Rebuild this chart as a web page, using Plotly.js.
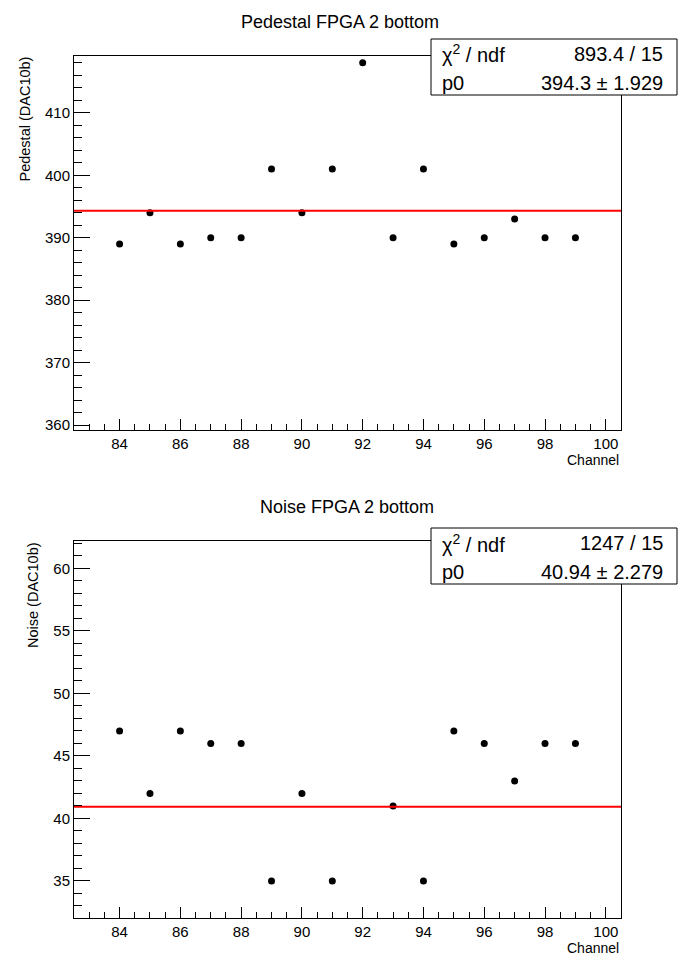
<!DOCTYPE html>
<html>
<head>
<meta charset="utf-8">
<script src="https://cdn.plot.ly/plotly-3.0.1.min.js"></script>
<style>html,body{margin:0;padding:0;background:#fff;}#chart{width:698px;height:976px;}</style>
</head>
<body>
<div id="chart"></div>
<script>
// ---- data ----
const channels = [84, 85, 86, 87, 88, 89, 90, 91, 92, 93, 94, 95, 96, 97, 98, 99];
const pedestal = [389, 394, 389, 390, 390, 401, 394, 401, 418, 390, 401, 389, 390, 393, 390, 390];
const noise    = [47, 42, 47, 46, 46, 35, 42, 35, 11, 41, 35, 47, 46, 43, 46, 46]; // ch 92 lies below the visible range
const pedestalFit = 394.3;
const noiseFit = 40.94;
const pedestalStats = [["&#967;<sup>2</sup> / ndf", "893.4 / 15"], ["p0", "394.3 &#177; 1.929"]];
const noiseStats    = [["&#967;<sup>2</sup> / ndf", "1247 / 15"], ["p0", "40.94 &#177; 2.279"]];
const titles = ["Pedestal FPGA 2 bottom", "Noise FPGA 2 bottom"];
const yTitles = ["Pedestal (DAC10b)", "Noise (DAC10b)"];
const xTitle = "Channel";
const xRange = [82.5, 100.5];

// ---- layout helpers ----
const W = 698, H = 976;
const FONT = "Liberation Sans, Arial, Helvetica, sans-serif";
const px = v => v / W;
const py = v => 1 - v / H;

const traces = [
  {x: channels, y: pedestal, mode: 'markers', type: 'scatter', xaxis: 'x', yaxis: 'y',
   marker: {color: 'black', size: 7}, cliponaxis: true, showlegend: false, hoverinfo: 'skip'},
  {x: xRange, y: [pedestalFit, pedestalFit], mode: 'lines', type: 'scatter', xaxis: 'x', yaxis: 'y',
   line: {color: '#ff0000', width: 2}, showlegend: false, hoverinfo: 'skip'},
  {x: channels, y: noise, mode: 'markers', type: 'scatter', xaxis: 'x2', yaxis: 'y2',
   marker: {color: 'black', size: 7}, cliponaxis: true, showlegend: false, hoverinfo: 'skip'},
  {x: xRange, y: [noiseFit, noiseFit], mode: 'lines', type: 'scatter', xaxis: 'x2', yaxis: 'y2',
   line: {color: '#ff0000', width: 2}, showlegend: false, hoverinfo: 'skip'}
];

function xAxis(anchor) {
  return {
    domain: [px(74), px(621)], range: xRange, anchor: anchor,
    showline: true, linecolor: 'black', linewidth: 1, mirror: true,
    showgrid: false, zeroline: false,
    ticks: 'inside', ticklen: 11, tickcolor: 'black', tickwidth: 1,
    tick0: 84, dtick: 2, ticklabelstandoff: 0,
    minor: {ticks: 'inside', ticklen: 6, tickcolor: 'black', tickwidth: 1, tick0: 84, dtick: 0.5, showgrid: false},
    tickfont: {family: FONT, size: 15, color: 'black'}
  };
}
function yAxis(anchor, domain, range, dtick, mdtick, tick0) {
  return {
    domain: domain, range: range, anchor: anchor,
    showline: true, linecolor: 'black', linewidth: 1, mirror: true,
    showgrid: false, zeroline: false,
    ticks: 'inside', ticklen: 16, tickcolor: 'black', tickwidth: 1,
    tick0: tick0, dtick: dtick, ticklabelstandoff: 0,
    minor: {ticks: 'inside', ticklen: 8, tickcolor: 'black', tickwidth: 1, tick0: tick0, dtick: mdtick, showgrid: false},
    tickfont: {family: FONT, size: 15, color: 'black'}
  };
}

const annotations = [];
const shapes = [];

function addPanel(top, bottom, title, titleX, yTitle, yTitleX, stats, boxTop) {
  annotations.push({text: title, xref: 'paper', yref: 'paper', x: px(titleX), y: py(top - 34),
    xanchor: 'center', yanchor: 'middle', showarrow: false, font: {family: FONT, size: 18, color: 'black'}});
  annotations.push({text: yTitle, xref: 'paper', yref: 'paper', x: px(yTitleX), y: py(top - 1),
    xanchor: 'center', yanchor: 'top', textangle: -90, showarrow: false, font: {family: FONT, size: 14.5, color: 'black'}});
  annotations.push({text: xTitle, xref: 'paper', yref: 'paper', x: px(621), y: py(bottom + 30),
    xanchor: 'right', yanchor: 'middle', showarrow: false, font: {family: FONT, size: 14, color: 'black'}});
  shapes.push({type: 'rect', xref: 'paper', yref: 'paper', x0: px(431), x1: px(677), y0: py(boxTop), y1: py(boxTop + 56),
    fillcolor: 'white', line: {color: 'black', width: 1}, layer: 'above'});
  const rows = [boxTop + 15, boxTop + 43.5];
  stats.forEach((row, i) => {
    annotations.push({text: row[0], xref: 'paper', yref: 'paper', x: px(440), y: py(rows[i]),
      xanchor: 'left', yanchor: 'middle', showarrow: false, font: {family: FONT, size: 20, color: 'black'}});
    annotations.push({text: row[1], xref: 'paper', yref: 'paper', x: px(665), y: py(rows[i]),
      xanchor: 'right', yanchor: 'middle', showarrow: false, font: {family: FONT, size: 20, color: 'black'}});
  });
}

addPanel(56, 430, titles[0], 340, yTitles[0], 25, pedestalStats, 39);
addPanel(541, 918, titles[1], 347, yTitles[1], 33, noiseStats, 528);

const layout = {
  width: W, height: H, margin: {l: 0, r: 0, t: 0, b: 0},
  paper_bgcolor: 'white', plot_bgcolor: 'white', showlegend: false,
  font: {family: FONT, color: 'black'},
  xaxis: xAxis('y'),
  yaxis: yAxis('x', [py(430), py(56)], [359.2, 419.1], 10, 2, 360),
  xaxis2: xAxis('y2'),
  yaxis2: yAxis('x2', [py(918), py(541)], [32.04, 62.18], 5, 1, 35),
  annotations: annotations, shapes: shapes
};

Plotly.newPlot('chart', traces, layout, {staticPlot: true, displayModeBar: false});
</script>
</body>
</html>
